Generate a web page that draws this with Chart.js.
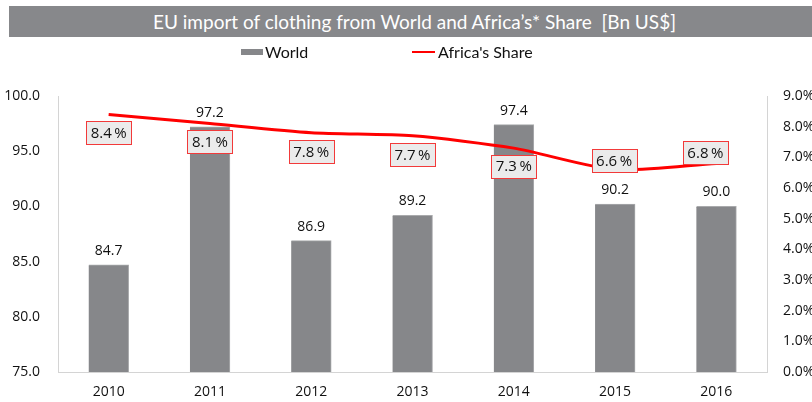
<!DOCTYPE html>
<html>
<head>
<meta charset="utf-8">
<script src="https://cdn.jsdelivr.net/npm/chart.js@4.4.1/dist/chart.umd.min.js"></script>
<style>
  html, body { margin: 0; padding: 0; background: #fff; }
  #wrap { position: relative; width: 812px; height: 402px; overflow: hidden; }
  #chart { position: absolute; left: 0; top: 0; }
  .title-bar {
    position: absolute; left: 9px; top: 6px; width: 803px; height: 31px;
    background: #87888b; color: #fff; text-align: center;
    font: 19px Lato, sans-serif; line-height: 31px; padding-left: 8px; box-sizing: border-box;
  }
  .legend { position: absolute; top: 43px; height: 18px; font: 16px Lato, sans-serif; color: #111; line-height: 18px; }
  .swatch-bar { position: absolute; left: 241px; top: 49px; width: 22px; height: 6px; background: #86878a; }
  .swatch-line { position: absolute; left: 412px; top: 51px; width: 23px; height: 2px; background: #ff0000; }
</style>
</head>
<body>
<div id="wrap">
  <canvas id="chart" width="812" height="402"></canvas>
  <div class="title-bar">EU import of clothing from World and Africa’s* Share&nbsp;&nbsp;[Bn US$]</div>
  <div class="swatch-bar"></div>
  <div class="legend" style="left:265px">World</div>
  <div class="swatch-line"></div>
  <div class="legend" style="left:438px">Africa's Share</div>
</div>
<script>
// ============================================================
// Data
// ============================================================
const YEARS = ['2010', '2011', '2012', '2013', '2014', '2015', '2016'];
const WORLD_IMPORTS = [84.7, 97.2, 86.9, 89.2, 97.4, 90.2, 90.0];   // Bn US$
const AFRICA_SHARE = [8.4, 8.1, 7.8, 7.7, 7.3, 6.6, 6.8];          // %
const LEFT_TICKS = [75, 80, 85, 90, 95, 100];
const RIGHT_TICKS = [0, 1, 2, 3, 4, 5, 6, 7, 8, 9];

// label box offsets from the line point (x, y), px
const SHARE_LABEL_OFFSETS = [[0, 18], [0, 18], [0, 19], [0, 19], [0, 18], [-1, -9], [-11, -11]];

const BOX_FONT = "15px 'Open Sans', sans-serif";
const NUM_FONT = "14px 'Open Sans', sans-serif";

// ============================================================
// Plugin: value labels (bars) + boxed labels (line)
// ============================================================
const valueLabels = {
  id: 'valueLabels',
  afterDatasetsDraw(chart) {
    const ctx = chart.ctx;
    ctx.save();
    ctx.textAlign = 'center';
    ctx.textBaseline = 'middle';

    ctx.font = NUM_FONT;
    chart.getDatasetMeta(1).data.forEach((bar, i) => {
      ctx.fillStyle = '#111';
      ctx.fillText(WORLD_IMPORTS[i].toFixed(1), bar.x, bar.y - 14);
    });

    ctx.font = BOX_FONT;
    chart.getDatasetMeta(0).data.forEach((pt, i) => {
      const txt = AFRICA_SHARE[i].toFixed(1) + '\u2009%';
      const [dx, dy] = SHARE_LABEL_OFFSETS[i];
      const cx = pt.x + dx, cy = pt.y + dy;
      const w = Math.round(ctx.measureText(txt).width) + 9, h = 23;
      const x0 = Math.round(cx - w / 2) + 0.5, y0 = Math.round(cy - h / 2) + 0.5;
      ctx.fillStyle = '#ebebeb';
      ctx.fillRect(x0, y0, w, h);
      ctx.strokeStyle = '#f23a3a';
      ctx.lineWidth = 1;
      ctx.strokeRect(x0, y0, w, h);
      ctx.fillStyle = '#111';
      ctx.fillText(txt, cx, cy + 1);
    });
    ctx.restore();
  }
};

// ============================================================
// Chart
// ============================================================
new Chart(document.getElementById('chart'), {
  type: 'bar',
  data: {
    labels: YEARS,
    datasets: [
      {
        type: 'line',
        label: "Africa's Share",
        data: AFRICA_SHARE,
        yAxisID: 'y1',
        borderColor: '#ff0000',
        borderWidth: 3,
        pointRadius: 0,
        tension: 0.25,
        fill: false,
        order: 0,
      },
      {
        type: 'bar',
        label: 'World',
        data: WORLD_IMPORTS,
        yAxisID: 'y',
        backgroundColor: '#86878a',
        borderColor: '#a9aaac',
        borderWidth: { top: 1, right: 1, left: 0, bottom: 0 },
        barThickness: 40,
        order: 1,
      },
    ],
  },
  options: {
    responsive: false,
    animation: false,
    layout: { padding: { top: 96, left: 0, right: 0, bottom: 0 } },
    plugins: { legend: { display: false }, tooltip: { enabled: false } },
    scales: {
      x: {
        grid: { display: false, drawTicks: false },
        border: { display: true, color: '#d4d4d4', width: 1 },
        ticks: { color: '#111', font: { family: 'Open Sans', size: 14 }, padding: 12 },
        afterFit: s => { s.height = 30; },
      },
      y: {
        position: 'left',
        min: LEFT_TICKS[0],
        max: LEFT_TICKS[LEFT_TICKS.length - 1],
        afterBuildTicks: s => { s.ticks = LEFT_TICKS.map(v => ({ value: v })); },
        grid: { display: false, drawTicks: false },
        border: { display: true, color: '#d4d4d4', width: 1 },
        ticks: { color: '#111', font: { family: 'Open Sans', size: 14 }, padding: 18,
                 callback: v => v.toFixed(1) },
        afterFit: s => { s.width = 58; },
      },
      y1: {
        position: 'right',
        min: RIGHT_TICKS[0],
        max: RIGHT_TICKS[RIGHT_TICKS.length - 1],
        afterBuildTicks: s => { s.ticks = RIGHT_TICKS.map(v => ({ value: v })); },
        grid: { display: false, drawTicks: false },
        border: { display: true, color: '#d4d4d4', width: 1 },
        ticks: { color: '#111', font: { family: 'Open Sans', size: 14 }, padding: 16,
                 callback: v => v.toFixed(1) + '%' },
        afterFit: s => { s.width = 45; },
      },
    },
  },
  plugins: [valueLabels],
});
</script>
</body>
</html>
